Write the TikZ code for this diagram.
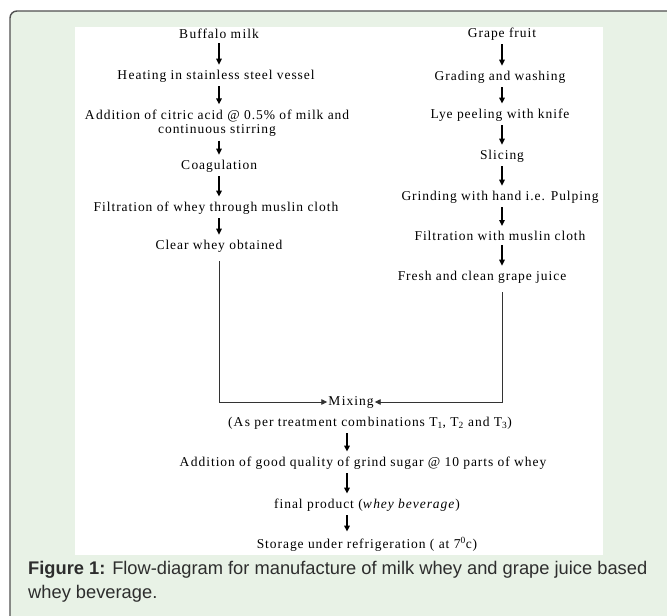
\documentclass[tikz,border=0pt]{standalone}
\usepackage{fontspec}
\setmainfont{Liberation Serif}[LetterSpace=7]
\newfontfamily\capfont{Liberation Sans}
\usetikzlibrary{arrows.meta}
\definecolor{boxgreen}{RGB}{232,242,230}
\definecolor{rimgray}{RGB}{80,80,80}
\definecolor{capgray}{RGB}{45,45,45}
\newcommand{\gp}{\kern1.5pt}
\tikzset{
  stage/.style={font=\fontsize{13.5}{14.5}\selectfont, inner sep=1pt, align=center},
  flow/.style={-{Triangle[width=5.5pt,length=6pt]}, line width=1.4pt, shorten <=3pt, shorten >=4pt},
  mixline/.style={-{Triangle[width=5.5pt,length=6pt]}, line width=0.9pt, black!80, shorten <=8pt},
}

\begin{document}
\begin{tikzpicture}[x=1pt,y=-1pt]
  \useasboundingbox (0,0) rectangle (667,616);
  \clip (0,0) rectangle (667,616);
  \filldraw[fill=boxgreen, draw=rimgray, line width=1.4pt, rounded corners=7pt] (10,11) rectangle (674,650);
  \fill[white] (75,27) rectangle (603,555);
  \coordinate (lx) at (219,0);
  \coordinate (rx) at (502,0);
  \coordinate (bx) at (347,0);
  % whey side
  \node[stage] (milk) at (219,34) {B\gp uffalo m\gp ilk};
  \node[stage] (heat) at (216,76) {H\gp eating in stainless steel vessel};
  \node[stage] (acid) at (217,123) {A\gp ddition of citric acid @ 0.5\% of milk and\\continuous stirring};
  \node[stage] (coag) at (219,166) {C\gp oagulation};
  \node[stage] (filt) at (216,208) {Filtration of whey through muslin cloth};
  \node[stage] (clear) at (219,246) {Clear whey obtained};
  % grape side
  \node[stage] (grape) at (502,34) {Grape fruit};
  \node[stage] (grade) at (500,77) {Grading and washing};
  \node[stage] (lye) at (500,115) {Lye peeling with knife};
  \node[stage] (slice) at (502,156) {Slicing};
  \node[stage] (grind) at (500,197) {Grinding with hand i.e. Pulping};
  \node[stage] (sieve) at (500,236) {Filtration with muslin cloth};
  \node[stage] (juice) at (482,277) {Fresh and clean grape juice};
  % common line
  \node[stage] (mix) at (351,402) {M\gp ixing};
  \node[stage] (combo) at (370,423) {(A\gp s per treatm\gp ent com\gp binations T\textsubscript{1}, T\textsubscript{2} and T\textsubscript{3})};
  \node[stage] (sugar) at (363,463) {A\gp ddition of good quality of grind sugar @ 10 parts of whey};
  \node[stage] (final) at (367,505) {final product (\textit{w\gp hey beverage})};
  \node[stage] (store) at (367,544) {Storage under refrigeration ( at 7\textsuperscript{0}c)};
  \foreach \a/\b in {milk/heat,heat/acid,acid/coag,coag/filt,filt/clear}
    \draw[flow] (\a.south -| lx) -- (\b.north -| lx);
  \foreach \a/\b in {grape/grade,grade/lye,lye/slice,slice/grind,grind/sieve,sieve/juice}
    \draw[flow] (\a.south -| rx) -- (\b.north -| rx);
  \foreach \a/\b in {combo/sugar,sugar/final,final/store}
    \draw[flow] (\a.south -| bx) -- (\b.north -| bx);
  \draw[mixline] (clear.south -| lx) |- (mix.west);
  \draw[mixline] (juice.south -| rx) |- (mix.east);
  \node[font=\capfont\fontsize{18.3}{24}\selectfont, text=capgray, anchor=base west, align=left, inner sep=0pt] (cap) at (28,598)
    {\textbf{Figure 1:} Flow-diagram for manufacture of milk whey and grape juice based\\whey beverage.};
\end{tikzpicture}
\end{document}
